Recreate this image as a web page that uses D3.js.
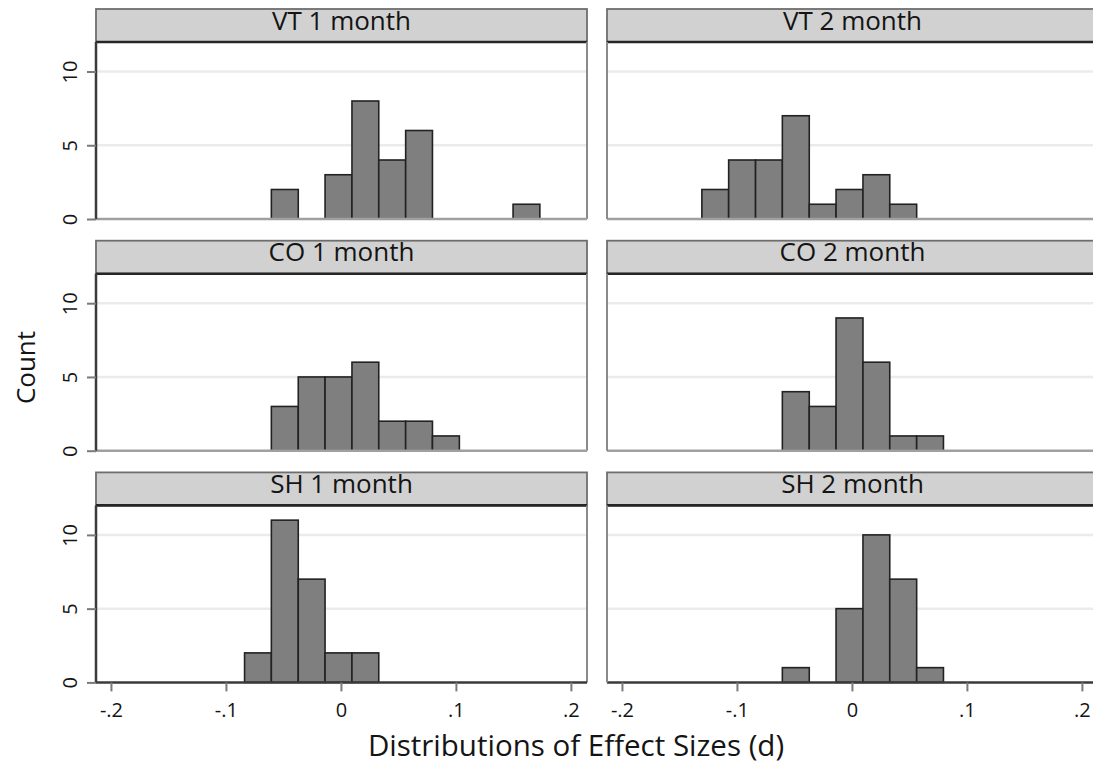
<!DOCTYPE html>
<html><head><meta charset="utf-8">
<script src="https://cdn.jsdelivr.net/npm/d3@7"></script>
<style>
body{margin:0;background:#fff;}
text{font-family:"Open Sans",sans-serif;fill:#141414;}
</style>
</head><body><script>
// Common histogram bin edges (effect size d)
const binEdges = [-0.1305, -0.1072, -0.0838, -0.0605, -0.0371, -0.0138, 0.0096, 0.0329, 0.0563, 0.0796, 0.1030, 0.1263, 0.1497, 0.1730];
// Counts per bin, one array per panel
const countsVT1 = [0, 0, 0, 2, 0, 3, 8, 4, 6, 0, 0, 0, 1];
const countsVT2 = [2, 4, 4, 7, 1, 2, 3, 1, 0, 0, 0, 0, 0];
const countsCO1 = [0, 0, 0, 3, 5, 5, 6, 2, 2, 1, 0, 0, 0];
const countsCO2 = [0, 0, 0, 4, 3, 9, 6, 1, 1, 0, 0, 0, 0];
const countsSH1 = [0, 0, 2, 11, 7, 2, 2, 0, 0, 0, 0, 0, 0];
const countsSH2 = [0, 0, 0, 1, 0, 5, 10, 7, 1, 0, 0, 0, 0];
const panelTitles = ["VT 1 month", "VT 2 month", "CO 1 month", "CO 2 month", "SH 1 month", "SH 2 month"];
const xTickValues = [-0.2, -0.1, 0, 0.1, 0.2];
const xTickLabels = ["-.2", "-.1", "0", ".1", ".2"];
const yTickValues = [0, 5, 10];
const yTickLabels = ["0", "5", "10"];
const xTitle = "Distributions of Effect Sizes (d)";
const yTitle = "Count";

const panelCounts = [countsVT1, countsVT2, countsCO1, countsCO2, countsSH1, countsSH2];
const panels = panelTitles.map((t, i) => ({title: t, counts: panelCounts[i], col: i % 2, row: Math.floor(i / 2)}));

const W = 1093, H = 765;
const colX = [96, 607], panelW = 491;
const rowTop = [9, 240.7, 472.4], headerH = 33, plotH = 177;

const x = d3.scaleLinear().domain([-0.213, 0.214]).range([0, panelW]);
const y = d3.scaleLinear().domain([0, 12]).range([plotH, 0]);

const svg = d3.select("body").append("svg").attr("width", W).attr("height", H);

panels.forEach(p => {
  const g = svg.append("g").attr("transform", `translate(${colX[p.col]},${rowTop[p.row]})`);
  // header strip
  g.append("rect").attr("x", 0).attr("y", 0).attr("width", panelW).attr("height", headerH)
    .attr("fill", "#d1d1d1").attr("stroke", "#6e6e6e").attr("stroke-width", 1.8);
  g.append("line").attr("x1", 0).attr("x2", panelW).attr("y1", headerH).attr("y2", headerH)
    .attr("stroke", "#262626").attr("stroke-width", 2.6);
  g.append("text").attr("x", panelW / 2).attr("y", 20.5).attr("text-anchor", "middle")
    .attr("font-size", 26).text(p.title);

  const pg = g.append("g").attr("transform", `translate(0,${headerH})`);
  // gridlines
  pg.selectAll(".grid").data(yTickValues.filter(v => v > 0)).enter().append("line")
    .attr("x1", 0).attr("x2", panelW).attr("y1", d => y(d)).attr("y2", d => y(d))
    .attr("stroke", "#ebebeb").attr("stroke-width", 2.5);

  // bars
  const bins = p.counts.map((c, i) => ({x0: binEdges[i], x1: binEdges[i + 1], c})).filter(b => b.c > 0);
  pg.selectAll(".bar").data(bins).enter().append("rect")
    .attr("x", d => x(d.x0)).attr("width", d => x(d.x1) - x(d.x0))
    .attr("y", d => y(d.c)).attr("height", d => y(0) - y(d.c))
    .attr("fill", "#7f7f7f").attr("stroke", "#222").attr("stroke-width", 1.6);

  // plot region outline (right and bottom)
  pg.append("line").attr("x1", panelW).attr("x2", panelW).attr("y1", 0).attr("y2", plotH)
    .attr("stroke", "#8a8a8a").attr("stroke-width", 2);
  pg.append("line").attr("x1", 0).attr("x2", panelW).attr("y1", plotH).attr("y2", plotH)
    .attr("stroke", p.row === 2 ? "#3a3a3a" : "#a0a0a0").attr("stroke-width", 2.5);

  // left edge: y axis (dark) on left column, gray outline on right column
  if (p.col === 0) {
    const ya = pg.append("g").call(d3.axisLeft(y).tickValues(yTickValues)
      .tickFormat((d, i) => yTickLabels[i]).tickSize(9).tickSizeOuter(0));
    ya.select(".domain").attr("stroke", "#3a3a3a").attr("stroke-width", 2.5)
      .attr("d", `M0,0V${plotH}`);
    ya.selectAll(".tick line").attr("stroke", "#7a7a7a").attr("stroke-width", 2);
    ya.selectAll(".tick text").attr("transform", "rotate(-90)")
      .attr("x", 0).attr("y", -19).attr("dy", 0).attr("text-anchor", "middle")
      .attr("font-size", 20).attr("font-family", "Open Sans").attr("fill", "#141414");
  } else {
    pg.append("line").attr("x1", 0).attr("x2", 0).attr("y1", 0).attr("y2", plotH)
      .attr("stroke", "#8a8a8a").attr("stroke-width", 2);
  }

  // x axis on bottom row
  if (p.row === 2) {
    const xa = pg.append("g").attr("transform", `translate(0,${plotH})`)
      .call(d3.axisBottom(x).tickValues(xTickValues).tickFormat((d, i) => xTickLabels[i])
        .tickSize(9).tickSizeOuter(0));
    xa.select(".domain").remove();
    xa.selectAll(".tick line").attr("stroke", "#7a7a7a").attr("stroke-width", 2);
    xa.selectAll(".tick text").attr("y", 34.5).attr("dy", 0)
      .attr("font-size", 20).attr("font-family", "Open Sans").attr("fill", "#141414");
  }
});

// axis titles
svg.append("text").attr("transform", "translate(35,367.5) rotate(-90)")
  .attr("text-anchor", "middle").attr("font-size", 26).text(yTitle);
svg.append("text").attr("x", 576).attr("y", 755.5).attr("text-anchor", "middle")
  .attr("font-size", 29.5).text(xTitle);
</script></body></html>
